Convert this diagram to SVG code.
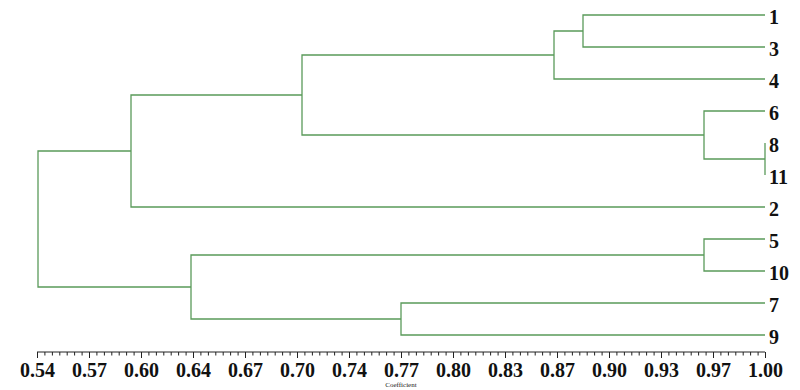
<svg xmlns="http://www.w3.org/2000/svg" width="800" height="390" viewBox="0 0 800 390">
<style>
.ln{stroke:#5a9a5a;stroke-width:1.3;fill:none}
.ax{stroke:#222;stroke-width:1;fill:none}
.leaf{font-family:"Liberation Serif","Times New Roman",serif;font-weight:bold;font-size:20px;fill:#111}
.tk{font-family:"Liberation Serif","Times New Roman",serif;font-weight:bold;font-size:20px;fill:#111;text-anchor:middle}
.cap{font-family:"Liberation Serif","Times New Roman",serif;font-size:7px;fill:#222;text-anchor:middle}
</style>
<rect width="800" height="390" fill="#fff"/>
<g id="connectors">
<path class="ln" d="M765,15H583V47H765"/>
<path class="ln" d="M583,31H554V79H765"/>
<path class="ln" d="M765,143V175"/>
<path class="ln" d="M765,111H704V159H765"/>
<path class="ln" d="M554,55H302V135H704"/>
<path class="ln" d="M302,95H131V207H765"/>
<path class="ln" d="M765,239H704V271H765"/>
<path class="ln" d="M765,303H401V335H765"/>
<path class="ln" d="M704,255H191V319H401"/>
<path class="ln" d="M131,151H38V287H191"/>
</g>
<g id="leaf-1"><text class="leaf" x="769" y="24">1</text></g>
<g id="leaf-3"><text class="leaf" x="769" y="56">3</text></g>
<g id="leaf-4"><text class="leaf" x="769" y="88">4</text></g>
<g id="leaf-6"><text class="leaf" x="769" y="120">6</text></g>
<g id="leaf-8"><text class="leaf" x="769" y="152">8</text></g>
<g id="leaf-11"><text class="leaf" x="769" y="184">11</text></g>
<g id="leaf-2"><text class="leaf" x="769" y="216">2</text></g>
<g id="leaf-5"><text class="leaf" x="769" y="248">5</text></g>
<g id="leaf-10"><text class="leaf" x="769" y="280">10</text></g>
<g id="leaf-7"><text class="leaf" x="769" y="312">7</text></g>
<g id="leaf-9"><text class="leaf" x="769" y="344">9</text></g>
<g id="axis">
<path class="ax" d="M37,352H765"/>
<path class="ax" d="M37.5,352v6M89.5,352v6M141.5,352v6M193.5,352v6M245.5,352v6M297.5,352v6M349.5,352v6M401.5,352v6M453.5,352v6M505.5,352v6M557.5,352v6M609.5,352v6M661.5,352v6M713.5,352v6M765.5,352v6"/>
<path class="ax" stroke-width="0.8" d="M44.9,352v3.5M52.4,352v3.5M59.8,352v3.5M67.2,352v3.5M74.6,352v3.5M82.1,352v3.5M96.9,352v3.5M104.4,352v3.5M111.8,352v3.5M119.2,352v3.5M126.6,352v3.5M134.1,352v3.5M148.9,352v3.5M156.4,352v3.5M163.8,352v3.5M171.2,352v3.5M178.6,352v3.5M186.1,352v3.5M200.9,352v3.5M208.4,352v3.5M215.8,352v3.5M223.2,352v3.5M230.6,352v3.5M238.1,352v3.5M252.9,352v3.5M260.4,352v3.5M267.8,352v3.5M275.2,352v3.5M282.6,352v3.5M290.1,352v3.5M304.9,352v3.5M312.4,352v3.5M319.8,352v3.5M327.2,352v3.5M334.6,352v3.5M342.1,352v3.5M356.9,352v3.5M364.4,352v3.5M371.8,352v3.5M379.2,352v3.5M386.6,352v3.5M394.1,352v3.5M408.9,352v3.5M416.4,352v3.5M423.8,352v3.5M431.2,352v3.5M438.6,352v3.5M446.1,352v3.5M460.9,352v3.5M468.4,352v3.5M475.8,352v3.5M483.2,352v3.5M490.6,352v3.5M498.1,352v3.5M512.9,352v3.5M520.4,352v3.5M527.8,352v3.5M535.2,352v3.5M542.6,352v3.5M550.1,352v3.5M564.9,352v3.5M572.4,352v3.5M579.8,352v3.5M587.2,352v3.5M594.6,352v3.5M602.1,352v3.5M616.9,352v3.5M624.4,352v3.5M631.8,352v3.5M639.2,352v3.5M646.6,352v3.5M654.1,352v3.5M668.9,352v3.5M676.4,352v3.5M683.8,352v3.5M691.2,352v3.5M698.6,352v3.5M706.1,352v3.5M720.9,352v3.5M728.4,352v3.5M735.8,352v3.5M743.2,352v3.5M750.6,352v3.5M758.1,352v3.5"/>
<text class="tk" x="37.5" y="377">0.54</text>
<text class="tk" x="89.5" y="377">0.57</text>
<text class="tk" x="141.5" y="377">0.60</text>
<text class="tk" x="193.5" y="377">0.64</text>
<text class="tk" x="245.5" y="377">0.67</text>
<text class="tk" x="297.5" y="377">0.70</text>
<text class="tk" x="349.5" y="377">0.74</text>
<text class="tk" x="401.5" y="377">0.77</text>
<text class="tk" x="453.5" y="377">0.80</text>
<text class="tk" x="505.5" y="377">0.83</text>
<text class="tk" x="557.5" y="377">0.87</text>
<text class="tk" x="609.5" y="377">0.90</text>
<text class="tk" x="661.5" y="377">0.93</text>
<text class="tk" x="713.5" y="377">0.97</text>
<text class="tk" x="765.5" y="377">1.00</text>
<text class="cap" x="401" y="387">Coefficient</text>
</g>
</svg>
